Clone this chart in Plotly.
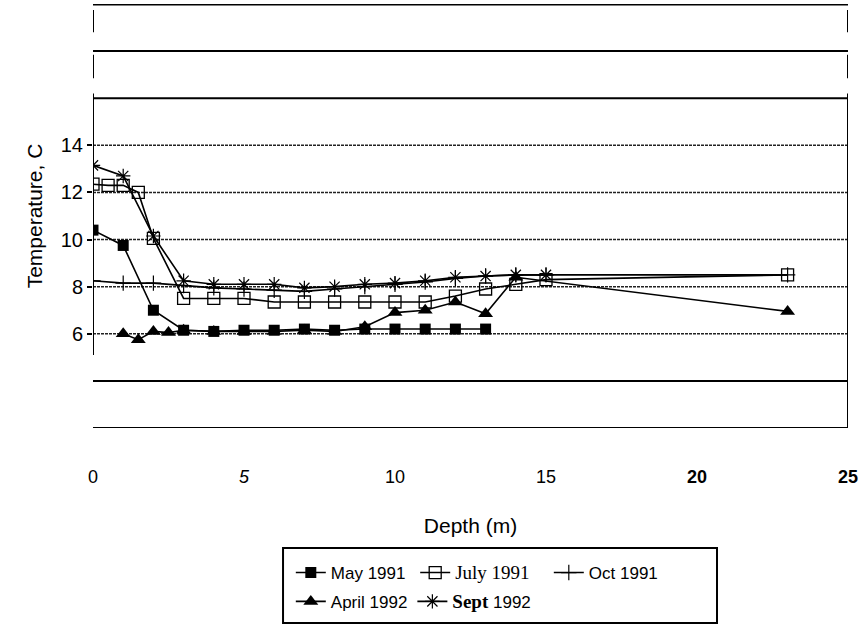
import plotly.graph_objects as go

# ---- data ----
may_depth = [0, 1, 2, 3, 4, 5, 6, 7, 8, 9, 10, 11, 12, 13]
may_temp = [10.4, 9.75, 7.0, 6.15, 6.1, 6.15, 6.15, 6.2, 6.15, 6.2, 6.2, 6.2, 6.2, 6.2]

july_depth = [0, 0.5, 1, 1.5, 2, 3, 4, 5, 6, 7, 8, 9, 10, 11, 12, 13, 14, 15, 23]
july_temp = [12.35, 12.3, 12.3, 12.0, 10.05, 7.5, 7.5, 7.5, 7.35, 7.35, 7.35, 7.35, 7.35, 7.35, 7.6, 7.9, 8.1, 8.3, 8.5]

oct_depth = [0, 1, 2, 3, 4, 5, 6, 7, 8, 9, 10, 11, 12, 13, 14, 15, 23]
oct_temp = [8.25, 8.15, 8.15, 8.05, 7.95, 7.9, 7.85, 7.8, 7.9, 8.0, 8.1, 8.2, 8.35, 8.45, 8.5, 8.5, 8.5]

apr_depth = [1, 1.5, 2, 2.5, 3, 4, 5, 6, 7, 8, 9, 10, 11, 12, 13, 14, 23]
apr_temp = [6.0, 5.75, 6.1, 6.05, 6.15, 6.1, 6.1, 6.1, 6.15, 6.1, 6.3, 6.9, 7.0, 7.35, 6.85, 8.4, 6.95]

sep_depth = [0, 1, 2, 3, 4, 5, 6, 7, 8, 9, 10, 11, 12, 13, 14, 15]
sep_temp = [13.15, 12.7, 10.15, 8.25, 8.1, 8.1, 8.1, 7.95, 8.0, 8.1, 8.15, 8.25, 8.4, 8.45, 8.5, 8.5]

x_ticks = [0, 5, 10, 15, 20, 25]
x_ticktext = ["0", "<i>5</i>", "10", "15", "<b>20</b>", "<b>25</b>"]
y_ticks = [6, 8, 10, 12, 14]
solid_levels = [2, 4, 16, 18, 20]
dotted_levels = [6, 8, 10, 12, 14]

SANS = "Liberation Sans, Arial, sans-serif"

fig = go.Figure()

common = dict(mode="lines+markers", line=dict(color="black", width=1.6))
fig.add_trace(go.Scatter(x=may_depth, y=may_temp, name="May 1991 ", legend="legend",
                         marker=dict(symbol="square", size=11, color="black"), **common))
fig.add_trace(go.Scatter(x=july_depth, y=july_temp,
                         name="<span style='font-family:Liberation Serif;font-size:19px'>July 1991</span>   ",
                         legend="legend",
                         marker=dict(symbol="square-open", size=12, color="black", line=dict(width=1.3)), **common))
fig.add_trace(go.Scatter(x=oct_depth, y=oct_temp, name="Oct 1991", legend="legend",
                         marker=dict(symbol="cross-thin-open", size=11, color="black", line=dict(width=1.2)), **common))
fig.add_trace(go.Scatter(x=apr_depth, y=apr_temp, name="April 1992", legend="legend2",
                         marker=dict(symbol="triangle-up", size=13, color="black"), **common))
fig.add_trace(go.Scatter(x=sep_depth, y=sep_temp,
                         name="<span style='font-family:Liberation Serif;font-size:19px'><b>Sept</b></span> 1992",
                         legend="legend2",
                         marker=dict(symbol="asterisk-open", size=12, color="black", line=dict(width=1.2)), **common))

shapes = []
for lv in solid_levels:
    shapes.append(dict(type="line", xref="x", yref="y", x0=0, x1=25, y0=lv, y1=lv,
                       line=dict(color="black", width=3 if lv == 20 else 2), layer="below"))
for lv in dotted_levels:
    shapes.append(dict(type="line", xref="x", yref="y", x0=0, x1=25, y0=lv, y1=lv,
                       line=dict(color="#222", width=1.5, dash="3px,1px"), layer="below"))
# left axis line and right border
shapes.append(dict(type="line", xref="x", yref="y", x0=0, x1=0, y0=5.1, y1=16.2,
                   line=dict(color="black", width=2)))
shapes.append(dict(type="line", xref="x", yref="y", x0=25, x1=25, y0=2, y1=16.2,
                   line=dict(color="black", width=2)))
for (a, b) in [(18.8, 19.75), (16.85, 17.85)]:
    shapes.append(dict(type="line", xref="x", yref="y", x0=0, x1=0, y0=a, y1=b,
                       line=dict(color="black", width=2)))
    shapes.append(dict(type="line", xref="x", yref="y", x0=25, x1=25, y0=a, y1=b,
                       line=dict(color="black", width=2)))
# legend box
shapes.append(dict(type="rect", xref="paper", yref="paper", x0=0.2517, x1=0.8265, y0=-0.46, y1=-0.283,
                   line=dict(color="black", width=2), fillcolor="white", layer="below"))
fig.update_layout(shapes=shapes)

fig.update_layout(
    width=862, height=626,
    margin=dict(l=93, r=14, t=4, b=198),
    plot_bgcolor="white", paper_bgcolor="white",
    font=dict(family=SANS, color="black", size=16),
    xaxis=dict(range=[0, 25], tickvals=x_ticks, ticktext=x_ticktext, showgrid=False,
               zeroline=False, showline=False, ticks="", ticklabelstandoff=36,
               tickfont=dict(size=18, family=SANS),
               title=dict(text="Depth (m)", font=dict(size=21, family=SANS), standoff=32)),
    yaxis=dict(range=[2, 20], tickvals=y_ticks, showgrid=False, zeroline=False, showline=False,
               ticks="outside", ticklen=5, tickwidth=1.5, tickcolor="black",
               tickfont=dict(size=20, family=SANS),
               title=dict(text="Temperature, C", font=dict(size=21, family=SANS), standoff=12)),
    legend=dict(orientation="h", x=0.262, y=-0.342, xanchor="left", yanchor="middle",
                bgcolor="rgba(0,0,0,0)", font=dict(size=17, family=SANS), itemwidth=30,
                tracegroupgap=0),
    legend2=dict(orientation="h", x=0.262, y=-0.41, xanchor="left", yanchor="middle",
                 bgcolor="rgba(0,0,0,0)", font=dict(size=17, family=SANS), itemwidth=30),
)

fig.write_html("out.html")
